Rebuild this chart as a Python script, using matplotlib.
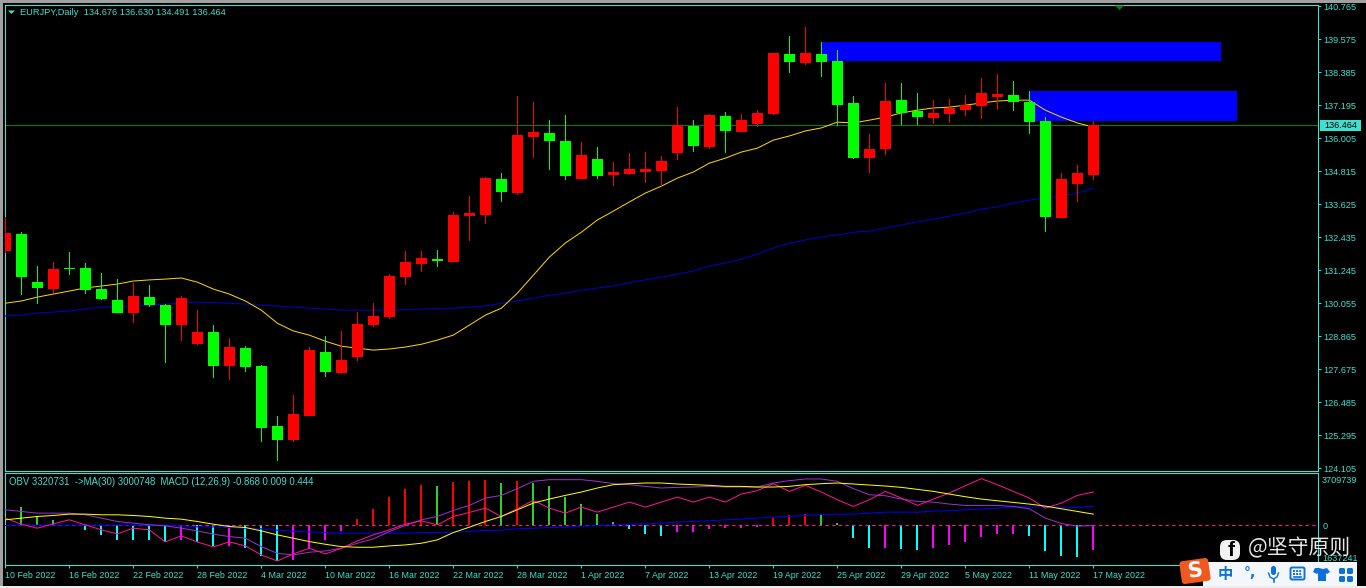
from matplotlib import pyplot as plt
from matplotlib.patches import Rectangle, FancyBboxPatch
from matplotlib.transforms import Affine2D, blended_transform_factory

plt.rcParams['font.family'] = ['Liberation Sans', 'DejaVu Sans']

TURQ = '#40e0d0'

opens = [131.93, 132.54, 130.81, 130.56, 131.32, 131.32, 130.56, 130.16, 129.70, 130.27,
         129.98, 129.26, 128.57, 129.01, 127.78, 128.43, 127.78, 125.62, 125.11, 125.98,
         128.29, 127.53, 128.11, 129.26, 129.55, 130.99, 131.46, 131.64, 131.53, 133.19,
         133.23, 134.53, 134.02, 136.04, 136.18, 135.90, 134.53, 135.25, 134.67, 134.70,
         134.78, 134.82, 135.46, 136.44, 135.68, 136.80, 136.22, 136.51, 136.87, 139.03,
         138.71, 139.03, 138.78, 137.27, 135.28, 135.61, 137.37, 136.98, 136.73, 136.87,
         137.01, 137.16, 137.48, 137.55, 137.30, 136.62, 133.12, 134.35, 134.676]
highs = [133.17, 132.61, 131.39, 131.53, 131.89, 131.50, 131.14, 130.92, 130.79, 130.70,
         130.02, 130.31, 129.80, 129.26, 128.79, 128.50, 127.82, 125.98, 126.74, 128.47,
         128.87, 129.05, 129.73, 130.05, 131.10, 131.93, 131.93, 131.97, 133.34, 133.91,
         134.60, 134.74, 137.52, 137.30, 136.65, 136.83, 135.86, 135.68, 135.14, 135.46,
         135.50, 135.36, 137.12, 136.65, 136.87, 136.94, 136.87, 137.01, 139.07, 139.68,
         140.01, 139.47, 139.18, 137.52, 136.15, 137.99, 137.99, 137.63, 137.37, 137.41,
         137.55, 138.17, 138.31, 138.06, 137.70, 136.76, 134.74, 135.03, 136.630]
lows = [131.85, 130.35, 130.03, 130.41, 131.06, 130.38, 130.16, 129.70, 129.33, 129.91,
        127.89, 128.68, 128.54, 127.35, 127.28, 127.57, 125.04, 124.36, 125.04, 125.98,
        127.39, 127.50, 127.96, 129.19, 129.48, 130.70, 131.17, 131.35, 131.53, 132.29,
        132.90, 133.70, 133.95, 135.28, 134.85, 134.49, 134.53, 134.53, 134.27, 134.67,
        134.38, 134.27, 135.21, 135.50, 135.61, 135.46, 136.22, 136.40, 136.83, 138.35,
        138.64, 138.20, 136.44, 135.25, 134.74, 135.39, 136.47, 136.47, 136.51, 136.55,
        136.80, 136.69, 137.01, 136.98, 136.15, 132.61, 133.12, 133.70, 134.491]
closes = [132.58, 131.00, 130.60, 131.28, 131.28, 130.52, 130.20, 129.70, 130.31, 129.98,
          129.26, 130.23, 129.01, 127.78, 128.47, 127.75, 125.55, 125.11, 126.05, 128.36,
          127.57, 128.00, 129.30, 129.59, 131.03, 131.53, 131.68, 131.57, 133.23, 133.30,
          134.56, 134.06, 136.11, 136.22, 135.90, 134.63, 135.39, 134.63, 134.78, 134.89,
          134.89, 135.17, 136.47, 135.72, 136.83, 136.26, 136.65, 136.91, 139.07, 138.74,
          139.07, 138.74, 137.19, 135.28, 135.61, 137.34, 136.91, 136.76, 136.91, 137.09,
          137.19, 137.63, 137.59, 137.30, 136.58, 133.16, 134.53, 134.74, 136.464]
ma_fast = [130.05, 130.13, 130.27, 130.38, 130.49, 130.60, 130.67, 130.74, 130.85, 130.89,
           130.92, 130.96, 130.81, 130.56, 130.38, 130.13, 129.80, 129.33, 129.05, 128.90,
           128.68, 128.50, 128.43, 128.36, 128.40, 128.47, 128.57, 128.72, 128.90, 129.26,
           129.62, 129.87, 130.41, 131.06, 131.71, 132.22, 132.61, 133.05, 133.37, 133.70,
           134.02, 134.27, 134.56, 134.78, 135.10, 135.28, 135.50, 135.64, 135.93, 136.08,
           136.26, 136.37, 136.58, 136.55, 136.65, 136.76, 136.91, 137.01, 137.09, 137.12,
           137.19, 137.27, 137.34, 137.37, 137.37, 137.01, 136.76, 136.55, 136.40]
ma_slow = [129.59, 129.62, 129.70, 129.73, 129.77, 129.84, 129.91, 129.93, 129.95, 129.98,
           130.02, 130.05, 130.09, 130.07, 130.05, 130.02, 129.98, 129.95, 129.91, 129.87,
           129.84, 129.80, 129.80, 129.80, 129.80, 129.82, 129.84, 129.86, 129.87, 129.91,
           129.95, 130.05, 130.13, 130.23, 130.34, 130.41, 130.52, 130.60, 130.67, 130.79,
           130.89, 130.99, 131.10, 131.21, 131.39, 131.50, 131.64, 131.82, 132.04, 132.22,
           132.33, 132.44, 132.51, 132.61, 132.65, 132.76, 132.87, 132.98, 133.08, 133.19,
           133.30, 133.44, 133.52, 133.66, 133.77, 133.84, 133.91, 134.02, 134.20]

# lower pane, all in one relative scale around the zero line
hist = [.76, .55, .28, .16, .01, -.14, -.29, -.43, -.44, -.45,
        -.50, -.44, -.50, -.62, -.61, -.68, -.92, -1.07, -1.04, -.68,
        -.44, -.17, .19, .49, .85, 1.09, 1.21, 1.18, 1.30, 1.31,
        1.36, 1.27, 1.33, 1.27, 1.18, .85, .64, .34, .10, -.11,
        -.26, -.32, -.20, -.19, -.11, -.08, -.07, -.05, .22, .31,
        .34, .31, .07, -.38, -.68, -.67, -.71, -.74, -.68, -.59,
        -.50, -.35, -.26, -.25, -.32, -.77, -.92, -.95, -.74]
obv = [.21, .03, -.09, .04, .16, .01, -.14, -.26, -.09, -.14,
       -.50, -.32, -.50, -.65, -.50, -.62, -.89, -1.07, -.86, -.69,
       -.86, -.69, -.47, -.29, -.14, .03, .13, .01, .26, .38,
       .51, .26, .49, .74, .51, .36, .54, .39, .54, .69,
       .54, .69, .84, .69, .84, .69, .93, 1.03, 1.24, 1.01,
       1.19, .99, .76, .56, .76, 1.01, .81, .59, .78, .96,
       1.18, 1.39, 1.21, 1.01, .81, .51, .66, .89, .99]
obv_ma = [.46, .41, .36, .36, .36, .31, .21, .11, .06, .01,
          -.02, -.09, -.17, -.27, -.34, -.39, -.64, -.84, -.89, -.81,
          -.77, -.69, -.54, -.41, -.19, -.01, .16, .26, .44, .59,
          .81, .89, 1.09, 1.31, 1.36, 1.36, 1.36, 1.31, 1.24, 1.21,
          1.16, 1.11, 1.13, 1.14, 1.16, 1.14, 1.14, 1.14, 1.26, 1.33,
          1.38, 1.38, 1.31, 1.09, .91, .88, .78, .71, .69, .63,
          .59, .59, .59, .56, .49, .21, .05, -.03, -.01]
macd_line = [.16, .21, .26, .29, .33, .33, .31, .31, .29, .26,
             .21, .18, .11, .03, -.04, -.07, -.17, -.29, -.39, -.49,
             -.57, -.64, -.66, -.66, -.62, -.59, -.54, -.44, -.22, -.06,
             .11, .26, .46, .66, .78, .89, .99, 1.11, 1.21, 1.24,
             1.26, 1.26, 1.23, 1.21, 1.19, 1.16, 1.16, 1.14, 1.14, 1.16,
             1.21, 1.24, 1.26, 1.23, 1.20, 1.17, 1.13, 1.07, 1.01, .93,
             .85, .78, .73, .68, .63, .57, .49, .41, .33]
signal_line = [-.01, 0, 0, 0, 0, 0, 0, 0, 0, 0,
               0, -.02, -.05, -.05, -.07, -.09, -.11, -.15, -.18, -.20,
               -.22, -.24, -.24, -.24, -.24, -.24, -.22, -.22, -.21, -.19,
               -.16, -.15, -.11, -.09, -.07, -.06, -.03, -.01, .01, .03,
               .04, .06, .09, .11, .13, .16, .18, .21, .24, .26,
               .29, .32, .33, .33, .36, .39, .39, .39, .42, .43,
               .46, .48, .51, .54, .55, .54, .53, .53, .57]

price_ticks = [140.765, 139.575, 138.385, 137.195, 136.005, 134.815, 133.625, 132.435,
               131.245, 130.055, 128.865, 127.675, 126.485, 125.295, 124.105]
date_bars = list(range(0, 69, 4))
date_labels = ['10 Feb 2022', '16 Feb 2022', '22 Feb 2022', '28 Feb 2022', '4 Mar 2022',
               '10 Mar 2022', '16 Mar 2022', '22 Mar 2022', '28 Mar 2022', '1 Apr 2022',
               '7 Apr 2022', '13 Apr 2022', '19 Apr 2022', '25 Apr 2022', '29 Apr 2022',
               '5 May 2022', '11 May 2022', '17 May 2022']
# bar from, bar to, price low, price high
zones = [(51, 76, 138.78, 139.47), (64, 77, 136.62, 137.70)]
last_price = 136.464

FLAT_DOWN = [(-1, 0), (1, 0), (0, -1)]


def pane_rect(top, bottom):
    return [4.5 / 1366, 1 - bottom / 588, (1318 - 4.5) / 1366, (bottom - top) / 588]


def style_pane(ax):
    ax.set_facecolor('black')
    ax.set_xlim(-0.05, 82.04)
    for spine in ax.spines.values():
        spine.set_color(TURQ)
        spine.set_linewidth(0.8)
    ax.yaxis.tick_right()
    ax.tick_params(axis='y', colors=TURQ, labelsize=6.6, length=2.2, width=0.7, pad=2)
    ax.tick_params(axis='x', colors=TURQ, length=2.2, width=0.7)


def hist_color(i):
    rising = i == 0 or hist[i] > hist[i - 1]
    if hist[i] >= 0:
        return 'red' if rising else '#32cd32'
    return 'magenta' if rising else 'cyan'


fig = plt.figure(figsize=(13.66, 5.88), dpi=100, facecolor='black')
ax = fig.add_axes(pane_rect(4.5, 471.3))
low_ax = fig.add_axes(pane_rect(473.3, 565))
bars = list(range(len(opens)))

# price pane
style_pane(ax)
ax.set_ylim(123.99, 140.82)
ax.set_xticks([])
ax.set_yticks(price_ticks)
ax.set_yticklabels(['%.3f' % p for p in price_ticks])
for start, end, bottom, top in zones:
    ax.add_patch(Rectangle((start, bottom), end - start, top - bottom,
                           fc='#0000ff', ec='none', zorder=1, antialiased=False))
ax.axhline(last_price, color='#0b7a0b', lw=0.8, zorder=2)
ax.plot(bars, ma_slow, color='#0000cd', lw=0.72, zorder=3)
ax.plot(bars, ma_fast, color='#ffd700', lw=0.72, zorder=3)
candle_colors = ['red' if c >= o else '#00ff00' for o, c in zip(opens, closes)]
# wicks as very narrow bars so they stay one solid pixel wide
ax.bar(bars, [h - l for h, l in zip(highs, lows)], bottom=lows, width=0.07, color=candle_colors,
       lw=0, zorder=4, antialiased=False)
body_tops = [max(o, c) for o, c in zip(opens, closes)]
body_lows = [min(o, c) for o, c in zip(opens, closes)]
# dojis still get a visible body
body_heights = [max(t - b, 0.04) for t, b in zip(body_tops, body_lows)]
ax.bar(bars, body_heights, bottom=body_lows, width=0.69, color=candle_colors,
       lw=0, zorder=5, antialiased=False)

ax.text(0.0118, 0.9835, 'EURJPY,Daily  134.676 136.630 134.491 136.464',
        transform=ax.transAxes, color=TURQ, fontsize=6.65, va='center', ha='left')
ax.plot([0.0053], [0.9882], marker=FLAT_DOWN, ms=5, color=TURQ, mew=0, transform=ax.transAxes)
ax.plot([0.8485], [0.9985], marker=FLAT_DOWN, ms=6.5, color='#0b7a0b', mew=0,
        transform=ax.transAxes, zorder=6)
price_edge = blended_transform_factory(ax.transAxes, ax.transData)
ax.add_patch(Rectangle((1.0012, last_price - 0.2), 0.0312, 0.4, fc=TURQ, ec='none',
                       transform=price_edge, clip_on=False, zorder=7))
ax.text(1.0046, last_price, '%.3f' % last_price, transform=price_edge, color='black',
        fontsize=6.6, va='center', ha='left', zorder=8)

# indicator pane
style_pane(low_ax)
low_ax.set_ylim(-1.19, 1.55)
low_ax.vlines(bars, 0, hist, colors=[hist_color(i) for i in bars], lw=1.3, zorder=2,
              antialiased=False)
low_ax.axhline(0, color='#ff1493', lw=0.8, ls=(0, (3, 3)), zorder=3)
low_ax.plot(bars, signal_line, color='#0000ff', lw=0.72, zorder=4)
low_ax.plot(bars, obv_ma, color='#9932cc', lw=0.72, zorder=4)
low_ax.plot(bars, obv, color='#ff1493', lw=0.72, zorder=4)
low_ax.plot(bars, macd_line, color='#ffff00', lw=0.72, zorder=5)
low_ax.set_yticks([1.35, 0, -0.98])
low_ax.set_yticklabels(['3709739', '0', '1637241'])
low_ax.tick_params(axis='y', length=0, pad=3)
low_ax.set_xticks(date_bars)
low_ax.set_xticklabels(date_labels, fontsize=6.4, ha='left')
low_ax.tick_params(axis='x', pad=2)
low_ax.text(0.0033, 0.9, 'OBV 3320731  ->MA(30) 3000748  MACD (12,26,9) -0.868 0.009 0.444',
            transform=low_ax.transAxes, color=TURQ, fontsize=6.9, va='center', ha='left')

# window edges, watermark and input-method bar, in screen pixels
top = fig.add_axes([0, 0, 1, 1], zorder=10)
top.set_xlim(0, 1366)
top.set_ylim(588, 0)
top.axis('off')
top.add_patch(Rectangle((0, 0), 1366, 3, fc='#a0a0a0', ec='none'))
top.add_patch(Rectangle((0, 0), 3, 588, fc='#a0a0a0', ec='none'))
top.add_patch(Rectangle((0, 586), 1366, 2, fc='#ececec', ec='none'))

top.add_patch(FancyBboxPatch((1222, 542), 16, 16, boxstyle='round,pad=2,rounding_size=7',
                             fc='#f2f2f2', ec='none'))
top.text(1231, 551, 'f', color='black', fontsize=15, fontweight='bold',
         ha='center', va='center', family='Liberation Sans')
top.text(1299.5, 548, '@坚守原则', color='#e8e8e8', fontsize=15, ha='center', va='center',
         family=['Noto Sans CJK SC', 'DejaVu Sans'])

top.add_patch(Rectangle((1203, 562), 154, 23.5, fc='#f3f7fb', ec='none'))
s_box = FancyBboxPatch((1181, 560), 28, 22, boxstyle='round,pad=0.5,rounding_size=3',
                       fc='#f0591e', ec='none')
s_box.set_transform(Affine2D().rotate_deg_around(1195, 571, -8) + top.transData)
top.add_patch(s_box)
top.text(1195, 571, 'S', color='white', fontsize=15, fontweight='bold', rotation=8,
         ha='center', va='center', family='DejaVu Sans')
ICON = '#0f6fd8'
top.text(1225, 574, '中', color=ICON, fontsize=11, fontweight='bold', ha='center', va='center',
         family=['Noto Sans CJK SC', 'DejaVu Sans'])
top.text(1250, 573, '°,', color=ICON, fontsize=10, fontweight='bold', ha='center', va='center',
         family='DejaVu Sans')
# microphone
top.add_patch(FancyBboxPatch((1271, 566), 5, 9, boxstyle='round,pad=0,rounding_size=2.5',
                             fc=ICON, ec='none'))
top.plot([1268.5, 1270, 1273.5, 1277, 1278.5], [573, 577, 579, 577, 573], color=ICON, lw=1)
top.plot([1273.5, 1273.5], [579, 582], color=ICON, lw=1.2)
# keyboard
top.add_patch(FancyBboxPatch((1291, 568), 13, 11, boxstyle='round,pad=0.5,rounding_size=1.5',
                             fc='none', ec=ICON, lw=1.4))
top.plot([1293, 1302], [571, 571], color=ICON, lw=1.4, ls=(0, (1, 0.6)))
top.plot([1293, 1302], [574, 574], color=ICON, lw=1.4, ls=(0, (1, 0.6)))
top.plot([1294, 1301], [577, 577], color=ICON, lw=1.2)
# shirt
top.fill([1315, 1319, 1323, 1327, 1330, 1327, 1326, 1326, 1318, 1318, 1317, 1313],
         [568, 568, 569, 568, 572, 574, 573, 581, 581, 573, 574, 572], color=ICON, lw=0)
# skin grid
for gx in (1339, 1347):
    for gy in (568, 576):
        top.add_patch(FancyBboxPatch((gx, gy), 6, 6, boxstyle='round,pad=0,rounding_size=1.5',
                                     fc=ICON, ec='none'))

fig.savefig('out.png', dpi=100, facecolor='black')
